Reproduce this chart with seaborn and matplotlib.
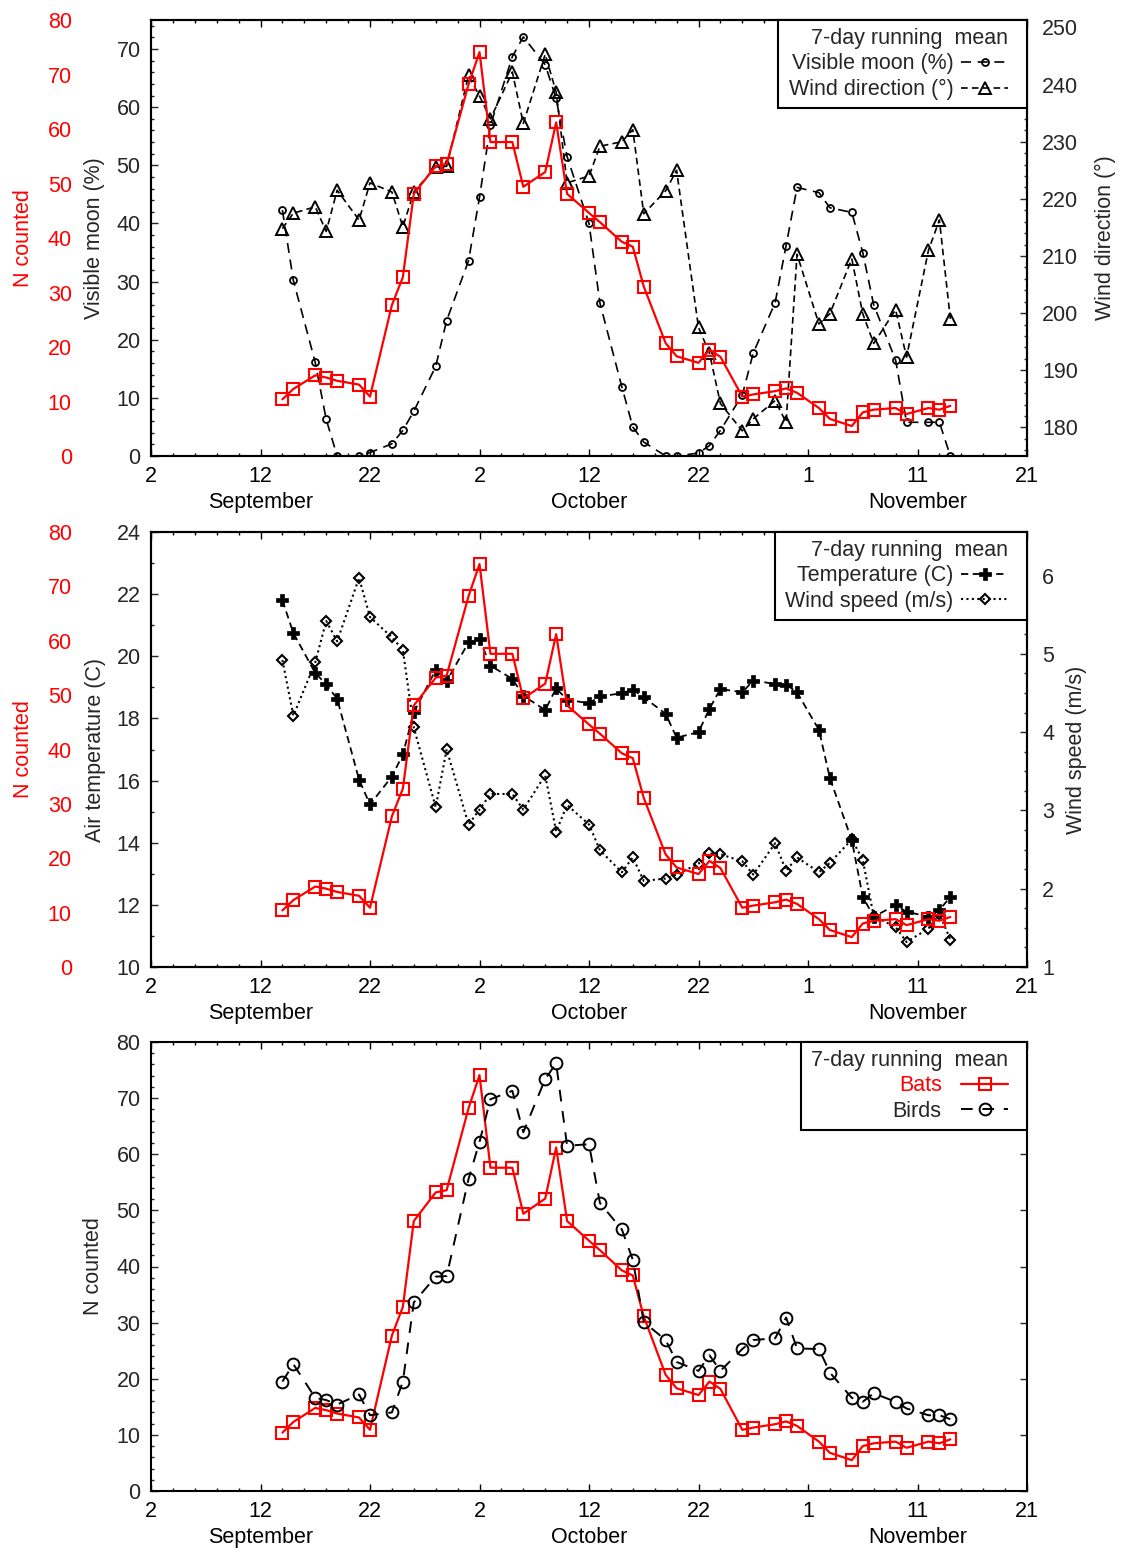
import matplotlib
matplotlib.use('Agg')
import matplotlib.pyplot as plt
from matplotlib.patches import Rectangle
from matplotlib.ticker import FixedLocator, MultipleLocator
import seaborn as sns

# x = day counted from 31 August (2 = 2 Sep, 32 = 2 Oct, 62 = 1 Nov)
days = [14, 15, 17, 18, 19, 21, 22, 24, 25, 26, 28, 29, 31, 32, 33, 35, 36, 38, 39, 40,
        42, 43, 45, 46, 47, 49, 50, 52, 53, 54, 56, 57, 59, 60, 61, 63, 64, 66, 67, 68,
        70, 71, 73, 74, 75]

bats = [10.4, 12.3, 14.8, 14.4, 13.8, 13.1, 10.9, 27.7, 32.8, 48.1, 53.2, 53.6, 68.2, 74.1,
        57.6, 57.6, 49.4, 52.1, 61.2, 48.1, 44.6, 42.9, 39.3, 38.4, 31.1, 20.7, 18.3, 17.1,
        19.5, 18.2, 10.9, 11.3, 11.9, 12.4, 11.6, 8.8, 6.8, 5.5, 8.0, 8.5, 8.8, 7.7, 8.8,
        8.5, 9.2]

birds = [19.5, 22.6, 16.6, 16.2, 15.4, 17.2, 13.5, 14.0, 19.5, 33.6, 38.2, 38.3, 55.6, 62.2,
         69.8, 71.3, 63.9, 73.4, 76.2, 61.5, 61.8, 51.3, 46.6, 41.2, 30.1, 26.9, 23.0, 21.4,
         24.2, 21.4, 25.3, 26.9, 27.2, 30.9, 25.4, 25.3, 21.1, 16.6, 15.9, 17.4, 15.9, 14.7,
         13.5, 13.5, 12.8]

moon = [42.3, 30.2, 16.1, 6.3, 0.0, 0.0, 0.6, 2.1, 4.4, 7.7, 15.4, 23.3, 33.6, 44.5, 56.9,
        68.7, 72.1, 67.3, 61.5, 51.5, 40.0, 26.3, 11.9, 5.0, 2.4, 0.0, 0.0, 0.5, 1.8, 4.4,
        10.5, 17.7, 26.4, 36.2, 46.2, 45.3, 42.7, 41.9, 35.0, 26.0, 16.5, 5.8, 5.8, 5.8, 0.0]

wind_dir = [214.8, 217.5, 218.6, 214.3, 221.5, 216.3, 222.8, 221.2, 215.1, 221.2, 225.6,
            225.7, 241.6, 238.0, 234.0, 242.2, 233.2, 245.3, 238.7, 222.8, 224.0, 229.2,
            230.0, 232.1, 217.4, 221.4, 225.0, 197.5, 193.0, 184.2, 179.4, 181.5, 184.7,
            180.9, 210.3, 198.1, 199.9, 209.5, 199.9, 194.7, 200.6, 192.3, 211.0, 216.3, 199.0]

temperature = [21.8, 20.75, 19.46, 19.1, 18.63, 16.03, 15.23, 16.13, 16.84, 18.2, 19.56,
               19.2, 20.45, 20.55, 19.7, 19.27, 18.73, 18.27, 18.97, 18.6, 18.49, 18.71,
               18.81, 18.93, 18.68, 18.15, 17.38, 17.56, 18.31, 18.95, 18.84, 19.22, 19.11,
               19.09, 18.84, 17.63, 16.08, 14.08, 12.26, 11.62, 11.99, 11.78, 11.62, 11.83, 12.26]

wind_speed = [4.92, 4.21, 4.89, 5.42, 5.16, 5.97, 5.47, 5.21, 5.05, 4.06, 3.04, 3.78, 2.82,
              3.01, 3.21, 3.21, 3.01, 3.45, 2.73, 3.07, 2.82, 2.49, 2.21, 2.40, 2.10, 2.13,
              2.18, 2.32, 2.45, 2.44, 2.35, 2.18, 2.58, 2.23, 2.40, 2.21, 2.33, 2.63, 2.37,
              1.65, 1.51, 1.32, 1.49, 1.68, 1.35]

x_ticks = [2, 12, 22, 32, 42, 52, 62, 72, 82]
x_labels = ['2', '12\nSeptember', '22', '2', '12\nOctober', '22', '1', '11\nNovember', '21']

sns.set_style('white')
plt.rcParams['font.family'] = ['Liberation Sans', 'DejaVu Sans']
plt.rcParams['font.size'] = 15.5

FS = 15.5
LEFT, WIDTH = 151 / 1121, 876 / 1121
AX_W_PX = 876


def draw(ax, y, **kw):
    sns.lineplot(x=days, y=y, ax=ax, legend=False, errorbar=None, **kw)
    return ax.lines[-1]


def style_frame(ax):
    for sp in ax.spines.values():
        sp.set_linewidth(1.5)
        sp.set_color('black')


def style_x(ax):
    ax.set_xlim(2, 82)
    ax.set_xticks(x_ticks, x_labels)
    ax.xaxis.set_minor_locator(FixedLocator(list(range(2, 83, 2))))
    ax.tick_params(axis='x', which='both', direction='in', top=True, bottom=True,
                   width=1, labelsize=FS, pad=7, colors='black')
    ax.tick_params(axis='x', which='major', length=5)
    ax.tick_params(axis='x', which='minor', length=2.5)
    for lbl in ax.get_xticklabels():
        lbl.set_linespacing(1.35)


def style_y(ax, lo, hi, major, minor, side='left', pad=7.5):
    ax.set_ylim(lo, hi)
    ax.yaxis.set_major_locator(MultipleLocator(major))
    ax.yaxis.set_minor_locator(MultipleLocator(minor))
    left = side == 'left'
    ax.tick_params(axis='y', which='both', direction='in', left=left, right=not left,
                   labelleft=left, labelright=not left, width=1, labelsize=FS, pad=pad)
    ax.tick_params(axis='y', which='major', length=5)
    ax.tick_params(axis='y', which='minor', length=2.5)


def red_count_axis(ax):
    axn = ax.twinx()
    axn.yaxis.tick_left()
    axn.yaxis.set_label_position('left')
    for sp in axn.spines.values():
        sp.set_visible(False)
    axn.spines['left'].set_position(('outward', 50))
    axn.set_ylim(0, 80)
    axn.yaxis.set_major_locator(MultipleLocator(10))
    axn.tick_params(axis='y', which='both', length=0, labelcolor='red', labelsize=FS,
                    pad=7, left=True, right=False, labelleft=True, labelright=False)
    axn.set_ylabel('N counted', color='red', fontsize=FS)
    axn.yaxis.set_label_coords(-0.133, 0.5)
    return axn


legends = []


def add_legend(ax, handles, labels, textpad=0.35):
    # legend sits a little left of the spine; its box is drawn later up to the spine
    leg = ax.legend(handles, labels, title='7-day running  mean', loc='upper right',
                    bbox_to_anchor=(1 - 11 / AX_W_PX, 1), bbox_transform=ax.transAxes,
                    borderaxespad=0, markerfirst=False, alignment='right', frameon=False,
                    fontsize=FS, title_fontsize=FS, borderpad=0.35, labelspacing=0.22,
                    handletextpad=textpad, handlelength=2.2)
    leg.set_zorder(10)
    legends.append((ax, leg))
    return leg


bats_kw = dict(color='red', linestyle='-', linewidth=1.6, marker='s', markersize=9,
               markerfacecolor='none', markeredgecolor='red', markeredgewidth=1.5)

fig = plt.figure(figsize=(11.21, 15.54), dpi=100)

# Panel 1: visible moon and wind direction
ax1 = fig.add_axes([LEFT, 1 - 456 / 1554, WIDTH, 436 / 1554])
ax1_wd = ax1.twinx()
ax1_n = red_count_axis(ax1)

moon_line = draw(ax1, moon, color='black', linestyle=(0, (6, 4)), linewidth=1.2, marker='o',
                 markersize=5, markerfacecolor='none', markeredgecolor='black',
                 markeredgewidth=1.3)
wd_line = draw(ax1_wd, wind_dir, color='black', linestyle=(0, (4, 2.5)), linewidth=1.2,
               marker='^', markersize=8, markerfacecolor='none', markeredgecolor='black',
               markeredgewidth=1.4)
draw(ax1_n, bats, **bats_kw)

style_x(ax1)
style_y(ax1, 0, 75, 10, 2)
style_y(ax1_wd, 175, 251.3, 10, 2, side='right', pad=11)
ax1.set_ylabel('Visible moon (%)', fontsize=FS)
ax1.yaxis.set_label_coords(-0.052, 0.5)
ax1_wd.set_ylabel('Wind direction (°)', fontsize=FS)
ax1_wd.yaxis.set_label_coords(1.077, 0.5)
ax1.set_xlabel('')
style_frame(ax1)
style_frame(ax1_wd)
add_legend(ax1_n, [moon_line, wd_line], ['Visible moon (%)', 'Wind direction (°)'])

# Panel 2: air temperature and wind speed
ax2 = fig.add_axes([LEFT, 1 - 967 / 1554, WIDTH, 435 / 1554])
ax2_ws = ax2.twinx()
ax2_n = red_count_axis(ax2)

temp_line = draw(ax2, temperature, color='black', linestyle=(0, (4, 2.5)), linewidth=1.3,
                 marker='P', markersize=9, markerfacecolor='black', markeredgecolor='black',
                 markeredgewidth=0.5)
ws_line = draw(ax2_ws, wind_speed, color='black', linestyle=(0, (1, 1.6)), linewidth=1.5,
               marker='D', markersize=5, markerfacecolor='none', markeredgecolor='black',
               markeredgewidth=1.5)
draw(ax2_n, bats, **bats_kw)

style_x(ax2)
style_y(ax2, 10, 24, 2, 1)
style_y(ax2_ws, 1, 6.556, 1, 0.25, side='right', pad=11)
ax2.set_ylabel('Air temperature (C)', fontsize=FS)
ax2.yaxis.set_label_coords(-0.051, 0.5)
ax2_ws.set_ylabel('Wind speed (m/s)', fontsize=FS)
ax2_ws.yaxis.set_label_coords(1.045, 0.5)
ax2.set_xlabel('')
style_frame(ax2)
style_frame(ax2_ws)
add_legend(ax2_n, [temp_line, ws_line], ['Temperature (C)', 'Wind speed (m/s)'])

# Panel 3: bats vs birds
ax3 = fig.add_axes([LEFT, 1 - 1491 / 1554, WIDTH, 449 / 1554])
bats_line = draw(ax3, bats, **bats_kw)
birds_line = draw(ax3, birds, color='black', linestyle=(0, (6, 5)), linewidth=1.4, marker='o',
                  markersize=8.5, markerfacecolor='none', markeredgecolor='black',
                  markeredgewidth=1.4)
style_x(ax3)
style_y(ax3, 0, 80, 10, 2)
ax3.tick_params(axis='y', which='major', right=True)
ax3.set_ylabel('N counted', fontsize=FS)
ax3.yaxis.set_label_coords(-0.054, 0.5)
ax3.set_xlabel('')
style_frame(ax3)
leg3 = add_legend(ax3, [bats_line, birds_line], ['Bats', 'Birds'], textpad=0.9)
leg3.get_texts()[0].set_color('red')

# legend boxes reaching the right spine, like the original
fig.canvas.draw()
renderer = fig.canvas.get_renderer()
for ax, leg in legends:
    bb = leg.get_window_extent(renderer).transformed(ax.transAxes.inverted())
    x0 = bb.x0 - 3 / AX_W_PX
    ax.add_patch(Rectangle((x0, bb.y0), 1 - x0, 1 - bb.y0, transform=ax.transAxes,
                           facecolor='white', edgecolor='black', linewidth=1.5,
                           zorder=9, clip_on=False))

fig.savefig('out.png', dpi=100)
